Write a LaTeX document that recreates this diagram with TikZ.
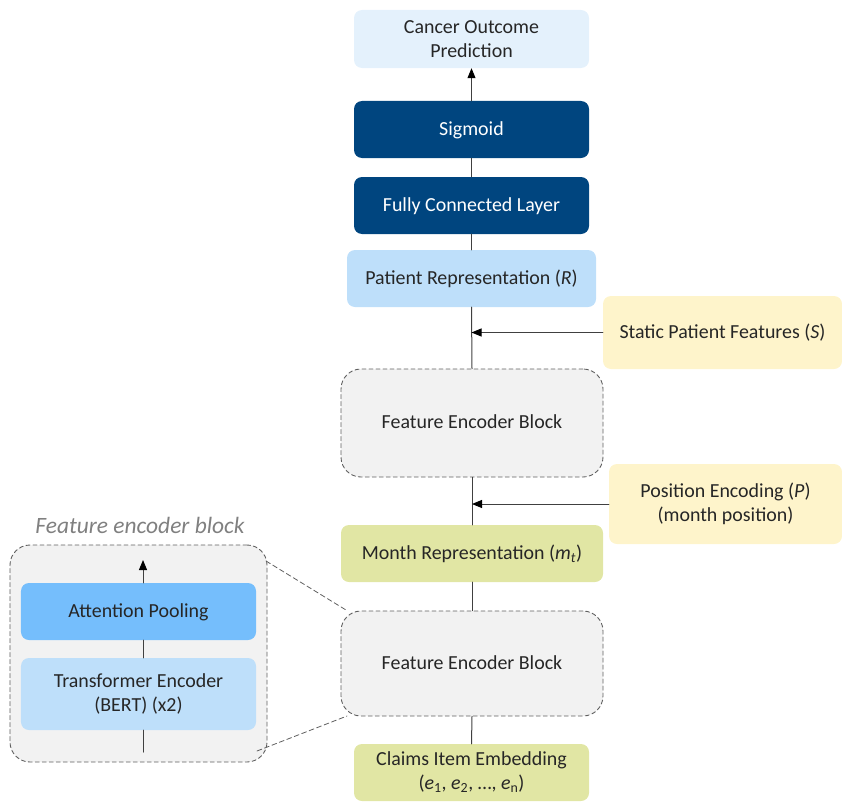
\documentclass[tikz,border=0pt]{standalone}
\usepackage{fontspec}
\setmainfont{Carlito}
\usetikzlibrary{arrows.meta}
\definecolor{darkblue}{HTML}{00457F}
\definecolor{paleblue}{HTML}{E4F1FC}
\definecolor{lightblue}{HTML}{BEDFFA}
\definecolor{midblue}{HTML}{75BEFC}
\definecolor{paleyellow}{HTML}{FEF4CB}
\definecolor{palegreen}{HTML}{E1E6A4}
\definecolor{blockgray}{HTML}{F2F2F2}
\definecolor{linegray}{HTML}{404040}
\definecolor{dashgray}{HTML}{5F5F5F}
\definecolor{textgray}{HTML}{262626}
\tikzset{
    box/.style={%plain rounded box
        rounded corners=8bp,
        align=center,
        inner sep=0pt,
        text=textgray,
        font=\fontsize{20}{24}\selectfont
        },
    oneline/.style={text height=14bp,text depth=3bp},
    darkbox/.style={box,oneline,fill=darkblue,text=white},
    encblock/.style={box,fill=blockgray,draw=dashgray,line width=0.9bp,
        dash pattern=on 4bp off 3bp,rounded corners=20bp},
    flow/.style={draw=linegray,line width=1bp},
    zoomline/.style={draw=dashgray,line width=0.8bp,dash pattern=on 5bp off 3bp}
    }

\begin{document}
\begin{tikzpicture}[x=1bp,y=-1bp,line cap=round,line join=round,>={Triangle[length=10bp,width=8bp,color=black]}]
\useasboundingbox (0,0) rectangle (842,802);
% main column
\node[box,fill=paleblue,minimum width=235bp,minimum height=58bp] (pred) at (471.5,39) {Cancer Outcome\\Prediction};
\node[darkbox,minimum width=235bp,minimum height=57bp] (sig) at (471.5,129.5) {Sigmoid};
\node[darkbox,minimum width=235bp,minimum height=57bp] (fc) at (471.5,205.5) {Fully Connected Layer};
\node[box,oneline,fill=lightblue,minimum width=249bp,minimum height=57bp] (rep) at (471.5,278.5) {Patient Representation (\textit{R})};
\node[encblock,oneline,minimum width=262bp,minimum height=108bp] (febtop) at (472,423) {Feature Encoder Block};
\node[box,oneline,fill=palegreen,minimum width=262bp,minimum height=57bp] (month) at (472,553.5) {Month Representation (\textit{m}\textsubscript{\textit{t}})};
\node[encblock,oneline,minimum width=262bp,minimum height=105bp] (febbot) at (472,663.5) {Feature Encoder Block};
\node[box,fill=palegreen,minimum width=235bp,minimum height=57bp] (claims) at (471.5,772.5) {Claims Item Embedding\\(\textit{e}\textsubscript{1}, \textit{e}\textsubscript{2}, …, \textit{e}\textsubscript{n})};
% side inputs
\node[box,oneline,fill=paleyellow,minimum width=239bp,minimum height=73bp] (static) at (722.5,332.5) {Static Patient Features (\textit{S})};
\node[box,fill=paleyellow,minimum width=233bp,minimum height=80bp] (pos) at (725.5,504) {Position Encoding (\textit{P})\\(month position)};

\draw[flow] (claims.north) -- (febbot.south);
\draw[flow] (febbot.north) -- (month.south);
\draw[flow] (month.north) -- (febtop.south);
\draw[flow] (febtop.north) -- (rep.south);
\draw[flow] (rep.north) -- (fc.south);
\draw[flow] (fc.north) -- (sig.south);
\draw[flow,->] (sig.north) -- (pred.south);
\draw[flow,->] (static.west) -- (static.west -| rep.south);
\draw[flow,->] (pos.west) -- (pos.west -| month.north);

% inset: feature encoder block
\node[box,text=gray,font=\fontsize{23.5}{28}\selectfont\itshape] (insettitle) at (140,525) {Feature encoder block};
\node[encblock,minimum width=257bp,minimum height=217bp] (inset) at (138.5,653.5) {};
\node[box,oneline,fill=midblue,minimum width=235bp,minimum height=57bp] (attn) at (138.5,611.5) {Attention Pooling};
\node[box,fill=lightblue,minimum width=235bp,minimum height=72bp] (trans) at (138.5,694) {Transformer Encoder\\(BERT) (x2)};
\coordinate (intop) at (143,560);
\coordinate (inbot) at (143,752);
\draw[flow] (inbot) -- (inbot |- trans.south);
\draw[flow] (trans.north -| inbot) -- (attn.south -| inbot);
\draw[flow,->] (attn.north -| inbot) -- (intop);

% zoom lines
\coordinate (zoomA) at (266,561);
\coordinate (zoomB) at (257,751);
\coordinate (zoomC) at (346,610);
\coordinate (zoomD) at (347,716);
\draw[zoomline] (zoomA) -- (zoomC);
\draw[zoomline] (zoomB) -- (zoomD);
\end{tikzpicture}
\end{document}
